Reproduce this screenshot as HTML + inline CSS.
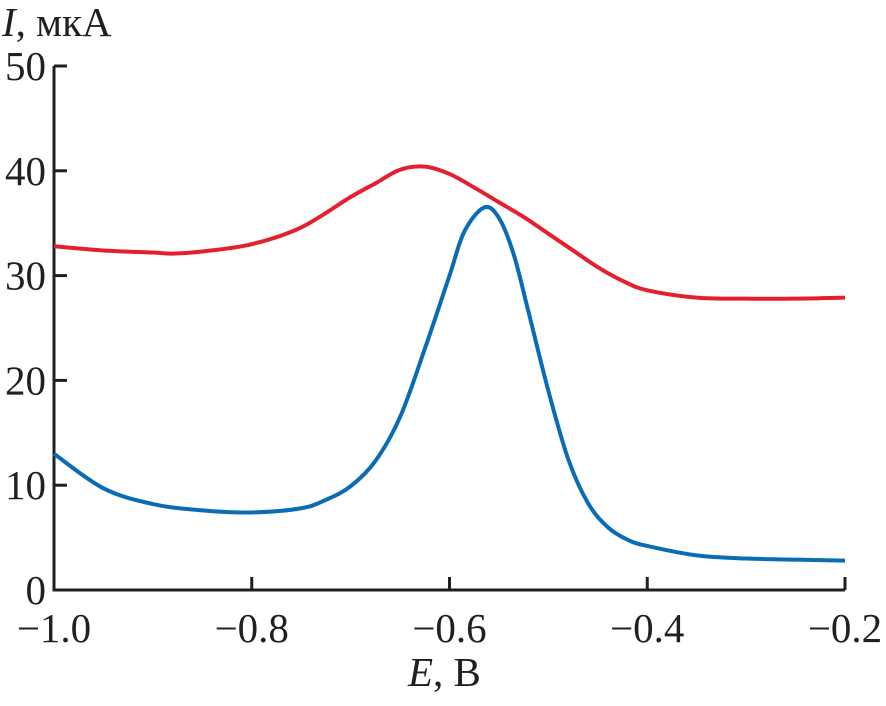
<!DOCTYPE html>
<html><head><meta charset="utf-8"><style>
body{margin:0;background:#fff}
svg text{font-family:"Liberation Serif",serif;fill:#231f20}
</style></head><body>
<svg width="886" height="701">
<g id="axes"></g>
<path id="red" fill="none" stroke="#e5202e" stroke-width="4"/>
<path id="blue" fill="none" stroke="#0a6cb4" stroke-width="4"/>
<text x="2" y="36" font-size="41"><tspan font-style="italic">I</tspan>, мкА</text>
<text x="408" y="686" font-size="41"><tspan font-style="italic">E</tspan>, В</text>
</svg>
<script>
const xTicks=[-1.0,-0.8,-0.6,-0.4,-0.2];
const xTickLabels=["−1.0","−0.8","−0.6","−0.4","−0.2"];
const yTicks=[0,10,20,30,40,50];
const redX=[-1.0,-0.95,-0.9,-0.88,-0.85,-0.8,-0.75,-0.7,-0.675,-0.65,-0.625,-0.6,-0.575,-0.55,-0.525,-0.5,-0.475,-0.45,-0.425,-0.4,-0.35,-0.3,-0.25,-0.2];
const redY=[32.8,32.4,32.2,32.1,32.3,33.0,34.6,37.5,38.8,40.1,40.4,39.7,38.4,37.0,35.6,34.0,32.4,30.8,29.5,28.6,27.9,27.8,27.8,27.9];
const blueX=[-1.0,-0.95,-0.9,-0.85,-0.8,-0.75,-0.725,-0.7,-0.675,-0.65,-0.625,-0.6,-0.585,-0.565,-0.55,-0.535,-0.52,-0.5,-0.48,-0.46,-0.44,-0.42,-0.4,-0.35,-0.3,-0.25,-0.2];
const blueY=[13.0,9.7,8.2,7.6,7.4,7.8,8.6,9.9,12.3,16.5,23,30,34.2,36.5,35.5,32,26.5,19,12.5,8.3,6.0,4.8,4.2,3.3,3.0,2.9,2.8];
const X0=54,X1=845,Y0=590,Y1=66;
const sx=v=>X0+(v+1.0)/0.8*(X1-X0);
const sy=v=>Y0-v/50*(Y0-Y1);
const ns="http://www.w3.org/2000/svg";
const ax=document.getElementById('axes');
function mk(t,a){const e=document.createElementNS(ns,t);for(const k in a)e.setAttribute(k,a[k]);ax.appendChild(e);return e;}
let a=mk('path',{d:`M${X0},${Y1}V${Y0}H${X1}`,fill:'none',stroke:'#231f20','stroke-width':3});


xTicks.forEach((v,i)=>{
 const l=mk('line',{x1:sx(v),x2:sx(v),y1:Y0,y2:Y0-13,stroke:'#231f20','stroke-width':3});
 
 
 const t=mk('text',{x:sx(v),y:Y0+52,'font-size':41,'text-anchor':'middle'});
 t.textContent=xTickLabels[i];
 
 
});
yTicks.forEach(v=>{
 const l=mk('line',{x1:X0,x2:X0+13,y1:sy(v),y2:sy(v),stroke:'#231f20','stroke-width':3});
 
 
 const t=mk('text',{x:X0-8,y:sy(v)+14,'font-size':41,'text-anchor':'end'});
 t.textContent=v;
 
 
});
function path(xs,ys){
 const p=xs.map((x,i)=>[sx(x),sy(ys[i])]);
 let d=`M${p[0][0]},${p[0][1]}`;
 for(let i=0;i<p.length-1;i++){
  const p0=p[i-1]||p[i],p1=p[i],p2=p[i+1],p3=p[i+2]||p2;
  d+=`C${p1[0]+(p2[0]-p0[0])/6},${p1[1]+(p2[1]-p0[1])/6} ${p2[0]-(p3[0]-p1[0])/6},${p2[1]-(p3[1]-p1[1])/6} ${p2[0]},${p2[1]}`;
 }
 return d;
}
document.getElementById('red').setAttribute('d',path(redX,redY));
document.getElementById('blue').setAttribute('d',path(blueX,blueY));
</script>
</body></html>
